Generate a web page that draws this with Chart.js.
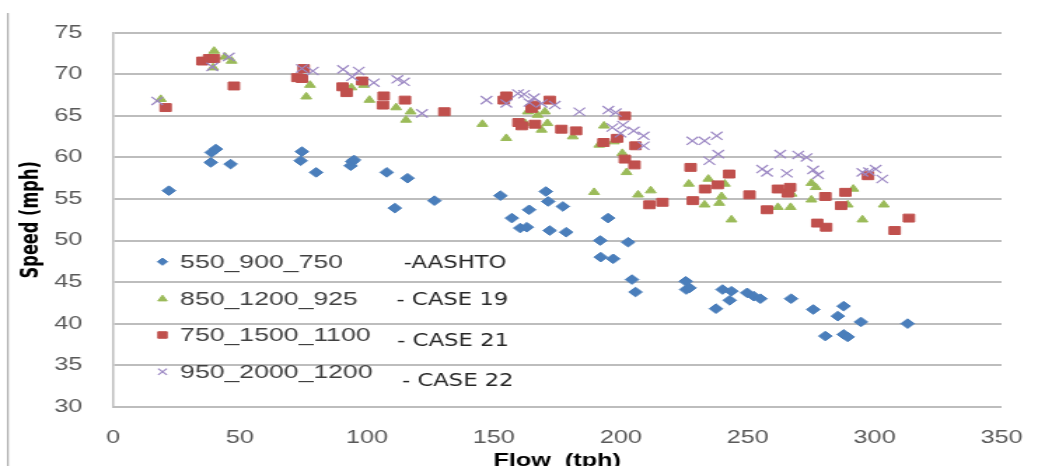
<!DOCTYPE html>
<html>
<head>
<meta charset="utf-8">
<script src="https://cdn.jsdelivr.net/npm/chart.js@4.4.0/dist/chart.umd.min.js"></script>
<style>
html, body { margin: 0; padding: 0; background: #fff; overflow: hidden; }
/* the reference picture is stretched sideways, so the canvas is too */
#wrap { width: 751px; height: 466px; transform: scaleX(1.4008); transform-origin: 0 0; }
</style>
</head>
<body>
<div id="wrap"><canvas id="speedChart" width="751" height="466"></canvas></div>
<script>
// 550_900_750 -AASHTO
var aashtoFlow = [22.0, 38.5, 38.8, 40.5, 46.3, 73.9, 74.4, 80.0, 93.6, 94.2, 94.9, 107.8, 111.0, 116.0, 126.6, 152.6, 157.1, 160.4, 163.0, 163.9, 170.5, 171.4, 172.0, 177.2, 178.5, 191.9, 192.1, 195.0, 197.0, 202.9, 204.4, 205.8, 225.6, 225.8, 227.1, 237.5, 240.1, 242.9, 243.6, 249.8, 252.4, 255.0, 267.1, 275.8, 280.6, 285.5, 287.8, 287.8, 289.4, 294.6, 313.0];
var aashtoSpeed = [56.0, 59.4, 60.6, 61.0, 59.2, 59.6, 60.7, 58.2, 59.0, 59.5, 59.7, 58.2, 53.9, 57.5, 54.8, 55.4, 52.7, 51.5, 51.6, 53.7, 55.9, 54.7, 51.2, 54.1, 51.0, 50.0, 48.0, 52.7, 47.8, 49.8, 45.3, 43.8, 45.1, 44.1, 44.3, 41.8, 44.1, 42.8, 43.9, 43.7, 43.3, 43.0, 43.0, 41.7, 38.5, 40.9, 42.1, 38.7, 38.4, 40.2, 40.0];

// 850_1200_925 - CASE 19
var case19Flow = [18.8, 39.4, 39.8, 44.1, 46.7, 76.1, 77.6, 93.9, 98.8, 101.0, 111.5, 115.4, 117.2, 145.5, 154.9, 162.3, 163.4, 167.2, 168.8, 170.1, 171.1, 181.1, 189.5, 191.5, 193.4, 197.3, 200.6, 202.3, 206.8, 211.8, 226.8, 233.0, 234.5, 238.8, 239.7, 241.0, 243.6, 261.9, 266.9, 267.3, 275.1, 275.1, 276.8, 289.4, 291.6, 295.2, 303.6];
var case19Speed = [67.0, 70.8, 72.8, 72.1, 71.6, 67.3, 68.7, 68.4, 68.7, 66.9, 66.0, 64.5, 65.5, 64.0, 62.3, 64.1, 65.5, 65.1, 63.3, 65.5, 64.1, 62.5, 55.8, 61.5, 63.8, 61.9, 60.5, 58.2, 55.5, 56.0, 56.8, 54.3, 57.4, 54.5, 55.3, 56.8, 52.5, 54.0, 54.0, 55.6, 56.9, 54.9, 56.4, 54.3, 56.2, 52.5, 54.3];

// 750_1500_1100 - CASE 21
var case21Flow = [20.7, 35.2, 37.8, 39.8, 47.6, 72.6, 74.4, 75.1, 90.4, 92.0, 98.1, 106.3, 106.6, 115.0, 130.5, 153.9, 154.9, 159.7, 161.0, 164.9, 165.9, 166.2, 172.0, 176.6, 182.4, 193.2, 198.6, 201.6, 201.6, 205.4, 205.8, 211.3, 216.4, 227.5, 228.4, 233.2, 238.2, 242.7, 250.7, 257.6, 261.9, 265.8, 266.7, 277.4, 280.6, 280.9, 286.8, 288.5, 297.4, 307.9, 313.5];
var case21Speed = [66.0, 71.6, 71.9, 71.9, 68.6, 69.6, 69.5, 70.7, 68.5, 67.8, 69.2, 66.3, 67.4, 66.9, 65.5, 66.9, 67.4, 64.2, 63.8, 65.9, 66.3, 64.0, 66.9, 63.4, 63.2, 61.8, 62.3, 65.0, 59.8, 59.1, 61.4, 54.3, 54.6, 58.8, 54.8, 56.2, 56.7, 58.0, 55.5, 53.7, 56.2, 55.7, 56.4, 52.1, 55.3, 51.6, 54.2, 55.8, 57.8, 51.2, 52.7];

// 950_2000_1200 - CASE 22
var case22Flow = [17.4, 39.1, 45.6, 74.4, 78.7, 90.6, 94.2, 96.8, 102.7, 112.0, 114.6, 121.7, 147.1, 154.9, 159.5, 161.9, 164.0, 165.8, 168.8, 174.0, 183.7, 195.1, 196.7, 198.0, 199.9, 200.9, 205.1, 209.0, 209.0, 228.2, 233.0, 234.9, 237.8, 238.4, 255.7, 257.6, 262.8, 265.4, 269.9, 273.2, 275.8, 277.7, 295.2, 297.8, 300.4, 303.0];
var case22Speed = [66.8, 70.9, 72.1, 70.7, 70.4, 70.6, 69.7, 70.4, 69.0, 69.4, 69.1, 65.3, 66.9, 66.5, 67.7, 67.6, 66.6, 67.2, 66.5, 66.3, 65.5, 65.7, 63.6, 65.4, 62.9, 63.9, 63.2, 62.6, 61.4, 62.0, 62.0, 59.6, 62.6, 60.4, 58.6, 58.2, 60.4, 58.1, 60.3, 60.0, 58.5, 57.9, 58.2, 58.3, 58.6, 57.4];

var seriesNames = ['550_900_750', '850_1200_925', '750_1500_1100', '950_2000_1200'];
var caseNames = ['-AASHTO', '- CASE 19', '- CASE 21', '- CASE 22'];
var xTicks = [0, 50, 100, 150, 200, 250, 300, 350];
var yTicks = [30, 35, 40, 45, 50, 55, 60, 65, 70, 75];

function toPoints(xs, ys) {
    return xs.map(function (x, i) { return { x: x, y: ys[i] }; });
}

// legend sits inside the plot, lower left; second column are loose text boxes
var legendRowsY = [261.7, 299, 335, 371.7];
var caseTextPos = [[288.3, 262.3], [283.1, 299], [283.6, 340.7], [287, 380]];
var legendMarkRadius = [3.6, 3.8, 4.6, 4.4];

var insideLegend = {
    id: 'insideLegend',
    beforeDraw: function (chart) {
        var c = chart.ctx;
        c.save();
        c.fillStyle = '#fff';
        c.fillRect(0, 0, chart.width, chart.height);
        // outer frame line on the left
        c.strokeStyle = '#9a9a9a';
        c.lineWidth = 1;
        c.beginPath();
        c.moveTo(5.7, 13);
        c.lineTo(5.7, chart.height);
        c.stroke();
        c.restore();
    },
    afterDatasetsDraw: function (chart) {
        var c = chart.ctx;
        c.save();
        chart.data.datasets.forEach(function (ds, i) {
            var y = legendRowsY[i];
            c.fillStyle = ds.backgroundColor;
            c.strokeStyle = ds.borderColor;
            c.lineWidth = ds.borderWidth;
            Chart.helpers.drawPoint(c, {
                pointStyle: ds.pointStyle, radius: legendMarkRadius[i],
                rotation: 0, borderWidth: ds.borderWidth
            }, 116, y);
            c.fillStyle = '#404040';
            c.font = '19px "Liberation Sans", Arial, sans-serif';
            c.textBaseline = 'middle';
            c.textAlign = 'left';
            c.fillText(ds.label, 128.6, y + 1);
        });
        c.fillStyle = '#262626';
        c.font = '18px "Liberation Sans Narrow", "DejaVu Sans Condensed", sans-serif';
        caseNames.forEach(function (t, i) {
            c.fillText(t, caseTextPos[i][0], caseTextPos[i][1] + 1);
        });
        c.restore();
    }
};

var ctx = document.getElementById('speedChart').getContext('2d');
var myChart = new Chart(ctx, {
    type: 'scatter',
    data: {
        datasets: [
            {
                label: seriesNames[0],
                data: toPoints(aashtoFlow, aashtoSpeed),
                pointStyle: 'rectRot',
                pointRadius: 4.8,
                backgroundColor: '#4a7ebb',
                borderColor: '#4a7ebb',
                borderWidth: 1,
                order: 3
            },
            {
                label: seriesNames[1],
                data: toPoints(case19Flow, case19Speed),
                pointStyle: 'triangle',
                pointRadius: 4.4,
                backgroundColor: '#9bbb59',
                borderColor: '#9bbb59',
                borderWidth: 1,
                order: 2
            },
            {
                label: seriesNames[2],
                data: toPoints(case21Flow, case21Speed),
                pointStyle: 'rect',
                pointRadius: 5.6,
                backgroundColor: '#c0504d',
                borderColor: '#c0504d',
                borderWidth: 1,
                order: 1
            },
            {
                label: seriesNames[3],
                data: toPoints(case22Flow, case22Speed),
                pointStyle: 'crossRot',
                pointRadius: 5.8,
                backgroundColor: '#9c88c4',
                borderColor: '#9c88c4',
                borderWidth: 1.2,
                order: 0
            }
        ]
    },
    options: {
        responsive: false,
        animation: false,
        events: [],
        layout: { padding: { top: 28, right: 27.5, left: 0, bottom: 0 } },
        plugins: {
            legend: { display: false },
            tooltip: { enabled: false }
        },
        scales: {
            x: {
                type: 'linear',
                min: 0,
                max: 350,
                afterBuildTicks: function (axis) { axis.ticks = xTicks.map(function (v) { return { value: v }; }); },
                afterFit: function (axis) { axis.height = 59.3; },
                grid: { display: false, drawTicks: false },
                border: { display: true, color: '#bdbdbd', width: 2 },
                ticks: { color: '#595959', padding: 21, font: { family: '"Liberation Sans", Arial, sans-serif', size: 18 } },
                title: {
                    display: true,
                    text: 'Flow  (tph)',
                    color: '#000',
                    padding: { top: 0, bottom: -6 },
                    font: { family: '"Liberation Sans", Arial, sans-serif', size: 18, weight: 'bold' }
                }
            },
            y: {
                min: 30,
                max: 75,
                afterBuildTicks: function (axis) { axis.ticks = yTicks.map(function (v) { return { value: v }; }); },
                afterFit: function (axis) { axis.width = 80.7; },
                grid: { color: '#bdbdbd', lineWidth: 2, drawTicks: false },
                border: { display: true, color: '#bdbdbd', width: 1.5 },
                ticks: { color: '#595959', padding: 22, font: { family: '"Liberation Sans", Arial, sans-serif', size: 18 } },
                title: {
                    display: true,
                    text: 'Speed (mph)',
                    color: '#000',
                    padding: { top: 12, bottom: 0 },
                    font: { family: '"Liberation Sans Narrow", "DejaVu Sans Condensed", sans-serif', size: 18, weight: 'bold' }
                }
            }
        }
    },
    plugins: [insideLegend]
});
</script>
</body>
</html>
